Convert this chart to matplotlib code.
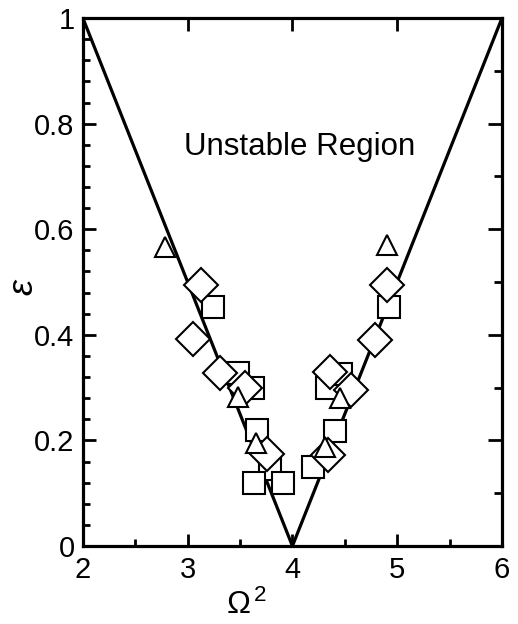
import numpy as np
import matplotlib.pyplot as plt
from matplotlib.ticker import MultipleLocator

plt.rcParams['font.family'] = ['Liberation Sans', 'DejaVu Sans']
plt.rcParams['mathtext.fontset'] = 'custom'
plt.rcParams['mathtext.it'] = 'Liberation Sans:italic'
plt.rcParams['mathtext.rm'] = 'Liberation Sans'

# stability boundary (V shape)
boundary_x = [2.0, 4.0, 6.0]
boundary_y = [1.0, 0.0, 1.0]

# measured points
diamond_x = [3.13, 3.05, 3.31, 3.55, 3.76, 4.36, 4.34, 4.56, 4.79, 4.90]
diamond_y = [0.494, 0.393, 0.328, 0.30, 0.175, 0.33, 0.173, 0.295, 0.39, 0.494]

square_x = [3.24, 3.48, 3.62, 3.66, 3.79, 3.63, 3.91, 4.20, 4.41, 4.33, 4.46, 4.92]
square_y = [0.453, 0.327, 0.30, 0.22, 0.145, 0.119, 0.119, 0.149, 0.217, 0.30, 0.326, 0.453]

triangle_x = [2.78, 3.48, 3.65, 4.31, 4.45, 4.90]
triangle_y = [0.566, 0.283, 0.195, 0.187, 0.28, 0.57]

yticks = [0, 0.2, 0.4, 0.6, 0.8, 1.0]
ytick_labels = ['0', '0.2', '0.4', '0.6', '0.8', '1']
xticks = [2, 3, 4, 5, 6]

fig = plt.figure(figsize=(5.18, 6.24), dpi=100)
ax = fig.add_axes([0.160, 0.125, 0.809, 0.846])

ax.plot(boundary_x, boundary_y, color='black', lw=2.3, zorder=2)

mk = dict(linestyle='none', markerfacecolor='white', markeredgecolor='black',
          markeredgewidth=1.5, zorder=3)
ax.plot(square_x, square_y, marker='s', markersize=16, **mk)
ax.plot(diamond_x, diamond_y, marker='D', markersize=17, **mk)
ax.plot(triangle_x, triangle_y, marker='^', markersize=15, **mk)

ax.text(4.07, 0.756, 'Unstable Region', fontsize=22.5, ha='center', va='center')

ax.set_xlim(2, 6)
ax.set_ylim(0, 1)
ax.set_xticks(xticks)
ax.set_yticks(yticks)
ax.set_yticklabels(ytick_labels)
ax.xaxis.set_minor_locator(MultipleLocator(0.5))
ax.yaxis.set_minor_locator(MultipleLocator(0.04))
ax.tick_params(which='both', direction='in', labelsize=21, width=2)
ax.tick_params(which='major', length=9, top=True, right=False)
ax.tick_params(which='minor', length=5, top=False, right=False)
ax.tick_params(axis='y', pad=6)
ax.tick_params(axis='x', pad=7)
for s in ax.spines.values():
    s.set_linewidth(2.3)

# right axis has its own tick spacing
axr = ax.twinx()
axr.set_ylim(0, 1)
axr.yaxis.set_major_locator(MultipleLocator(0.2))
axr.yaxis.set_minor_locator(MultipleLocator(0.1))
axr.tick_params(which='both', direction='in', width=2, labelright=False)
axr.tick_params(which='major', length=10)
axr.tick_params(which='minor', length=6)

ax.set_xlabel(r'$\mathit{\Omega}^{\,2}$', fontsize=23)
ax.xaxis.set_label_coords(0.39, -0.083)
ax.set_ylabel(r'$\varepsilon$', fontsize=26)
ax.yaxis.set_label_coords(-0.10, 0.49)

fig.savefig('out.png', dpi=100)
